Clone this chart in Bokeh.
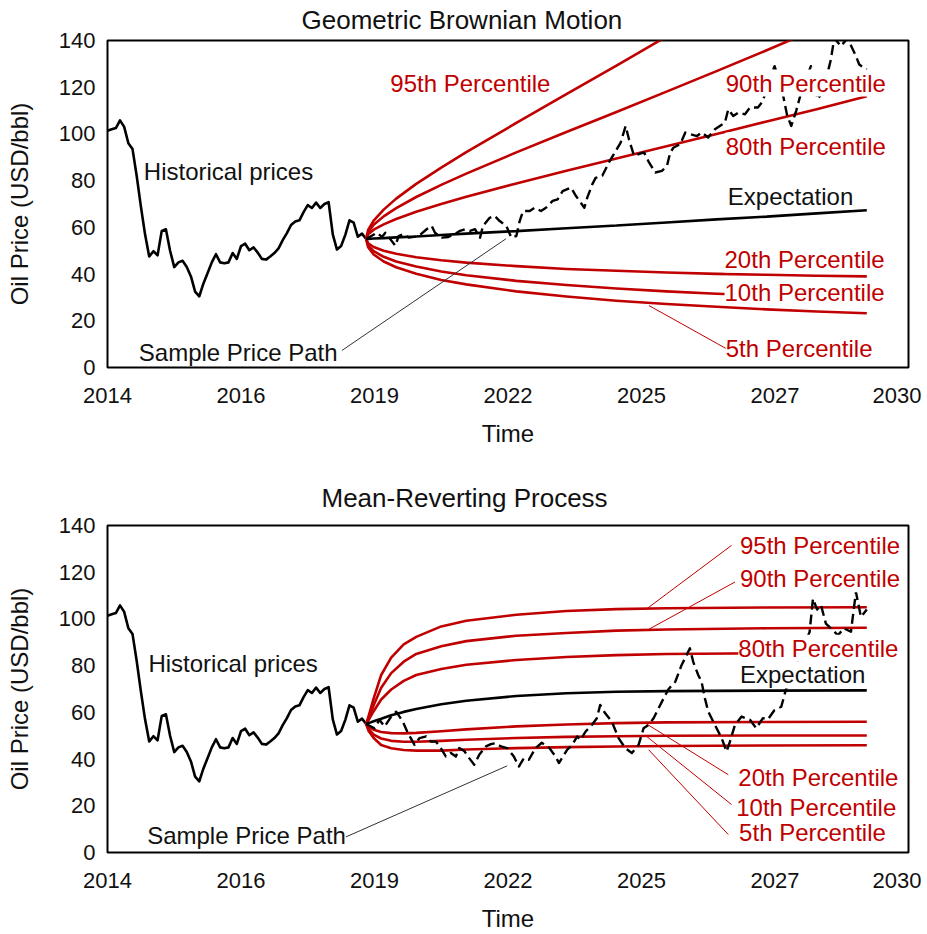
from bokeh.plotting import figure
from bokeh.models import Range1d, FixedTicker, Label
from bokeh.layouts import column
from bokeh.embed import file_html
from bokeh.resources import INLINE

FONT = "Liberation Sans"
RED = "#C00000"
INK = "#111111"
NBSP = "\u00a0"

# ---------------- data ----------------
# x axis measured in months since Jan 2014 (axis spans 16 years)
x_tick_months = [0, 32, 64, 96, 128, 160, 192]
x_tick_labels = ["2014", "2016", "2019", "2022", "2025", "2027", "2030"]
y_ticks = [0, 20, 40, 60, 80, 100, 120, 140]

# monthly historical oil price, month 0 .. 62
hist_prices = [101.4, 102.0, 102.5, 105.8, 103.0, 96.0, 93.5, 82.0, 69.0, 57.0,
               47.5, 49.8, 48.0, 58.5, 59.2, 50.0, 43.0, 45.0, 45.7, 43.0,
               39.0, 32.5, 30.5, 36.0, 40.5, 45.0, 48.5, 45.0, 44.6, 45.0,
               49.0, 46.5, 52.0, 53.0, 50.2, 51.4, 49.2, 46.5, 46.2, 47.5,
               49.0, 51.0, 54.5, 57.5, 61.0, 62.5, 63.0, 66.5, 69.5, 68.3,
               70.6, 68.3, 70.0, 70.8, 57.0, 50.5, 52.0, 56.8, 63.0, 62.0,
               56.0, 57.3, 55.0]
hist_months = list(range(len(hist_prices)))
start_month = 62

# ---- Geometric Brownian Motion (years after start) ----
gbm_t = [0, 0.04, 0.15, 0.35, 0.6, 1, 1.5, 2, 3, 4, 5, 6, 7, 8, 9, 10]
gbm_p95 = [55, 58.9, 62.9, 67.6, 72.3, 78.6, 85.6, 92.2, 104.7, 117.0, 129.2, 141.7, 154.5, 167.6, 181.2, 195.3]
gbm_p90 = [55, 58.0, 61.1, 64.7, 68.2, 73.0, 78.2, 83.0, 92.1, 100.8, 109.4, 118.1, 126.9, 135.8, 145.0, 154.4]
gbm_p80 = [55, 57.0, 59.0, 61.3, 63.6, 66.7, 70.0, 73.1, 78.8, 84.2, 89.5, 94.7, 100.0, 105.3, 110.6, 116.1]
gbm_exp = [55, 55.0, 55.2, 55.4, 55.7, 56.1, 56.7, 57.3, 58.4, 59.6, 60.8, 62.1, 63.4, 64.6, 66.0, 67.3]
gbm_p20 = [55, 53.2, 51.6, 50.0, 48.7, 47.2, 45.9, 44.9, 43.4, 42.2, 41.4, 40.7, 40.1, 39.7, 39.3, 39.0]
gbm_p10 = [55, 52.2, 49.8, 47.4, 45.4, 43.2, 41.1, 39.5, 37.1, 35.3, 33.8, 32.6, 31.6, 30.8, 30.0, 29.4]
gbm_p5 = [55, 51.5, 48.4, 45.4, 42.9, 40.1, 37.5, 35.6, 32.6, 30.4, 28.6, 27.2, 26.0, 24.9, 24.0, 23.2]

# sample path (months after start, price)
gbm_path_m = [0, 2.6, 3.8, 4.6, 7.0, 7.8, 9.0, 10.2, 12.6, 14.5,
              15.7, 16.5, 18.1, 19.7, 21.3, 22.5, 23.7, 24.9, 26.1, 27.3,
              28.0, 29.6, 30.8, 32.0, 33.6, 34.8, 36.0, 36.8, 37.6, 39.2,
              40.4, 41.9, 43.1, 44.7, 45.9, 47.1, 49.1, 50.3, 52.3, 53.0,
              54.2, 55.0, 56.6, 58.2, 61.0, 62.2, 63.0, 64.2, 66.6, 67.8,
              69.3, 70.9, 72.1, 72.9, 73.7, 75.3, 76.5, 77.7, 79.3, 80.4,
              82.0, 83.6, 86.0, 86.8, 88.0, 89.2, 90.8, 92.0, 93.9, 95.1,
              96.4, 97.9, 98.8, 99.9, 100.9, 101.9, 103.1, 104.3, 105.5, 106.6,
              108.2, 109.5, 111.4, 112.2, 113.8, 115.4, 117.4, 118.2, 120.0]
gbm_path_v = [55.0, 57.7, 55.9, 57.7, 52.1, 56.3, 57.1, 55.6, 56.3, 59.2,
              60.6, 57.7, 55.6, 55.9, 57.1, 58.5, 59.2, 58.5, 59.2, 55.6,
              60.6, 64.1, 64.9, 62.7, 60.6, 55.6, 56.3, 62.7, 67.0, 67.0,
              68.4, 67.0, 68.4, 71.3, 72.0, 75.5, 77.0, 73.4, 68.4, 72.7,
              78.4, 81.2, 82.1, 87.8, 96.3, 103.4, 97.7, 90.6, 92.1, 87.8,
              83.5, 84.2, 86.3, 92.1, 94.2, 95.6, 100.6, 99.9, 99.1, 100.6,
              98.5, 102.0, 104.9, 110.5, 107.7, 109.1, 108.4, 111.3, 111.3, 114.1,
              122.0, 129.0, 124.0, 116.9, 108.0, 103.4, 110.0, 118.0, 124.0, 129.0,
              114.8, 118.0, 131.9, 141.0, 137.6, 141.0, 133.3, 129.7, 127.5]

# ---- Mean-reverting process (years after start) ----
mr_t = [0, 0.05, 0.15, 0.3, 0.5, 0.75, 1, 1.5, 2, 3, 4, 5, 6, 8, 10]
mr_p95 = [55, 58.5, 66.0, 76.0, 83.4, 89.1, 92.3, 96.8, 99.2, 101.8, 103.4, 104.2, 104.6, 104.9, 105.0]
mr_p90 = [55, 57.5, 63.0, 70.5, 76.8, 81.7, 85.0, 88.3, 90.5, 92.8, 94.0, 95.0, 95.5, 96.0, 96.2]
mr_p80 = [55, 56.8, 60.5, 65.5, 69.8, 73.5, 76.0, 78.6, 80.4, 82.4, 83.7, 84.5, 85.0, 85.3, 85.4]
mr_exp = [55, 55.4, 56.2, 57.3, 58.8, 60.2, 61.4, 63.5, 65.0, 67.0, 68.2, 68.8, 69.1, 69.3, 69.4]
mr_p20 = [55, 53.8, 52.6, 51.6, 51.1, 51.0, 51.2, 51.9, 52.7, 54.0, 54.8, 55.4, 55.7, 55.9, 56.0]
mr_p10 = [55, 52.8, 50.5, 48.8, 47.8, 47.4, 47.4, 47.8, 48.3, 49.0, 49.5, 49.8, 50.0, 50.1, 50.1]
mr_p5 = [55, 52.0, 49.0, 46.0, 44.6, 43.9, 43.6, 43.6, 44.1, 44.7, 45.1, 45.4, 45.6, 45.8, 45.9]

mr_path_m = [0, 2.0, 3.2, 4.4, 6.0, 7.2, 8.8, 10.0, 11.6, 12.8,
             14.4, 15.5, 16.7, 17.9, 19.1, 20.3, 21.5, 22.3, 23.5, 24.7,
             25.9, 27.1, 28.7, 29.9, 31.1, 32.3, 33.8, 35.4, 36.6, 37.8,
             39.0, 40.6, 42.1, 43.8, 45.4, 46.2, 48.2, 49.4, 50.6, 51.4,
             52.6, 54.1, 55.3, 56.1, 57.3, 58.9, 60.5, 62.1, 63.7, 65.3,
             66.5, 67.7, 68.9, 70.9, 72.5, 74.1, 75.6, 77.6, 78.4, 79.6,
             80.4, 81.2, 82.0, 83.6, 85.2, 86.4, 87.2, 88.4, 90.0, 92.0,
             93.5, 95.1, 96.3, 97.9, 99.5, 100.7, 101.5, 102.8, 104.5, 106.3,
             107.1, 108.1, 109.0, 110.2, 111.4, 113.1, 114.5, 116.2, 117.4, 118.6,
             120.0]
mr_path_v = [55.0, 53.2, 56.8, 53.9, 58.2, 60.3, 56.0, 51.1, 46.1, 49.0,
             49.7, 47.5, 47.5, 44.7, 41.1, 42.6, 41.1, 44.7, 43.5, 40.4,
             37.6, 41.8, 45.4, 46.4, 46.8, 45.4, 44.7, 41.1, 36.8, 40.4,
             39.7, 44.7, 47.0, 45.0, 41.1, 38.3, 44.0, 46.1, 49.7, 48.2,
             51.8, 54.6, 57.5, 63.2, 59.6, 56.0, 49.0, 44.7, 42.6, 46.1,
             53.2, 54.6, 57.5, 64.6, 70.0, 73.1, 80.2, 87.4, 81.6, 76.0,
             73.1, 66.0, 60.3, 54.6, 49.0, 43.2, 47.5, 54.6, 58.2, 56.8,
             53.2, 57.5, 57.0, 61.0, 62.4, 70.3, 72.4, 79.0, 86.0, 94.5,
             108.7, 104.0, 106.0, 98.0, 96.0, 93.0, 96.0, 94.5, 111.5, 100.9,
             104.0]


def yrs_to_x(ts):
    return [start_month + 12 * t for t in ts]


def months_to_x(ms):
    return [start_month + m for m in ms]


def base_fig(title, title_offset, title_standoff, height, mb_left, mb_right, mb_top, mb_bottom):
    p = figure(width=927, height=height, x_range=Range1d(0, 192), y_range=Range1d(0, 140),
               output_backend="svg", toolbar_location=None,
               min_border_left=mb_left, min_border_right=mb_right,
               min_border_top=mb_top, min_border_bottom=mb_bottom)
    p.title.text = title
    p.title.align = "left"
    p.title.offset = title_offset
    p.title.vertical_align = "top"
    p.title.standoff = title_standoff
    p.title.text_font = FONT
    p.title.text_font_size = "26px"
    p.title.text_font_style = "normal"
    p.title.text_color = INK
    p.grid.visible = False
    p.outline_line_color = "black"
    p.outline_line_width = 2
    p.background_fill_color = "white"
    p.border_fill_color = "white"
    for ax in (p.xaxis, p.yaxis):
        ax.axis_line_color = None
        ax.major_tick_line_color = None
        ax.minor_tick_line_color = None
        ax.major_tick_out = 0
        ax.major_tick_in = 0
        ax.major_label_text_font = FONT
        ax.major_label_text_font_size = "22px"
        ax.major_label_text_color = INK
        ax.axis_label_text_font = FONT
        ax.axis_label_text_font_size = "24px"
        ax.axis_label_text_font_style = "normal"
        ax.axis_label_text_color = INK
    p.xaxis.ticker = FixedTicker(ticks=x_tick_months)
    overrides = {m: lab for m, lab in zip(x_tick_months, x_tick_labels)}
    # last label sits a little inside the right edge, as in the original
    overrides[x_tick_months[-1]] = x_tick_labels[-1] + NBSP
    p.xaxis.major_label_overrides = overrides
    p.xaxis.major_label_standoff = 15
    p.xaxis.axis_label = "Time"
    p.xaxis.axis_label_standoff = 9
    p.yaxis.ticker = FixedTicker(ticks=y_ticks)
    p.yaxis.major_label_standoff = 12
    p.yaxis.axis_label = "Oil Price (USD/bbl)"
    p.yaxis.axis_label_standoff = 23
    return p


def txt(p, x, y, text, color=INK, size="24px", align="left"):
    p.add_layout(Label(x=x, y=y, text=text, text_color=color, text_font=FONT,
                       text_font_size=size, text_align=align, text_baseline="middle",
                       background_fill_color="white", background_fill_alpha=1.0))


def draw_common(p, t, p95, p90, p80, pexp, p20, p10, p5, pm, pv):
    p.line(hist_months, hist_prices, line_color="black", line_width=2.6, line_join="round")
    tx = yrs_to_x(t)
    for series in (p95, p90, p80, p20, p10, p5):
        p.line(tx, series, line_color=RED, line_width=2.6, line_join="round")
    p.line(tx, pexp, line_color="black", line_width=2.6)
    p.line(months_to_x(pm), pv, line_color="black", line_width=2.4, line_dash="10 5",
           line_join="round")


H1 = 465
# ---------------- top: GBM ----------------
p1 = base_fig("Geometric Brownian Motion", 194, 8, H1, 102, 19, 39, H1 - 367)
draw_common(p1, gbm_t, gbm_p95, gbm_p90, gbm_p80, gbm_exp, gbm_p20, gbm_p10, gbm_p5,
            gbm_path_m, gbm_path_v)
p1.segment(x0=[129.8], y0=[26.5], x1=[148.4], y1=[8.0], line_color=RED, line_width=1)
p1.segment(x0=[56.2], y0=[7.3], x1=[95.5], y1=[55.1], line_color="#333333", line_width=1)
txt(p1, 8.7, 84.1, "Historical prices")
txt(p1, 7.5, 6.4, "Sample Price Path")
txt(p1, 67.8, 121.8, "95th Percentile", RED)
txt(p1, 148.2, 121.8, "90th Percentile", RED)
txt(p1, 148.2, 94.8, "80th Percentile", RED)
txt(p1, 148.7, 73.4, "Expectation")
txt(p1, 147.9, 46.4, "20th Percentile", RED)
txt(p1, 147.9, 32.1, "10th Percentile", RED)
txt(p1, 148.2, 8.1, "5th Percentile", RED)

# ---------------- bottom: mean reverting ----------------
H2 = 934 - H1
p2 = base_fig("Mean-Reverting Process", 214, 22, H2, 107, 16, 525 - H1, H2 - (853 - H1))
draw_common(p2, mr_t, mr_p95, mr_p90, mr_p80, mr_exp, mr_p20, mr_p10, mr_p5,
            mr_path_m, mr_path_v)
p2.segment(x0=[129.3, 129.7, 128.9, 129.3, 129.7], y0=[104.4, 95.5, 55.4, 49.6, 44.0],
           x1=[149.6, 150.4, 148.8, 149.6, 148.8], y1=[131.5, 115.8, 33.3, 20.5, 7.7],
           line_color=RED, line_width=1)
p2.segment(x0=[56.8], y0=[6.4], x1=[95.8], y1=[37.1], line_color="#333333", line_width=1)
txt(p2, 9.8, 81.1, "Historical prices")
txt(p2, 9.5, 7.3, "Sample Price Path")
txt(p2, 151.6, 131.5, "95th Percentile", RED)
txt(p2, 151.6, 117.2, "90th Percentile", RED)
txt(p2, 151.2, 87.4, "80th Percentile", RED)
txt(p2, 151.6, 76.0, "Expectation")
txt(p2, 151.2, 31.9, "20th Percentile", RED)
txt(p2, 150.7, 19.1, "10th Percentile", RED)
txt(p2, 151.4, 8.4, "5th Percentile", RED)

layout = column(p1, p2, spacing=0)
open("out.html", "w").write(file_html(layout, INLINE))
